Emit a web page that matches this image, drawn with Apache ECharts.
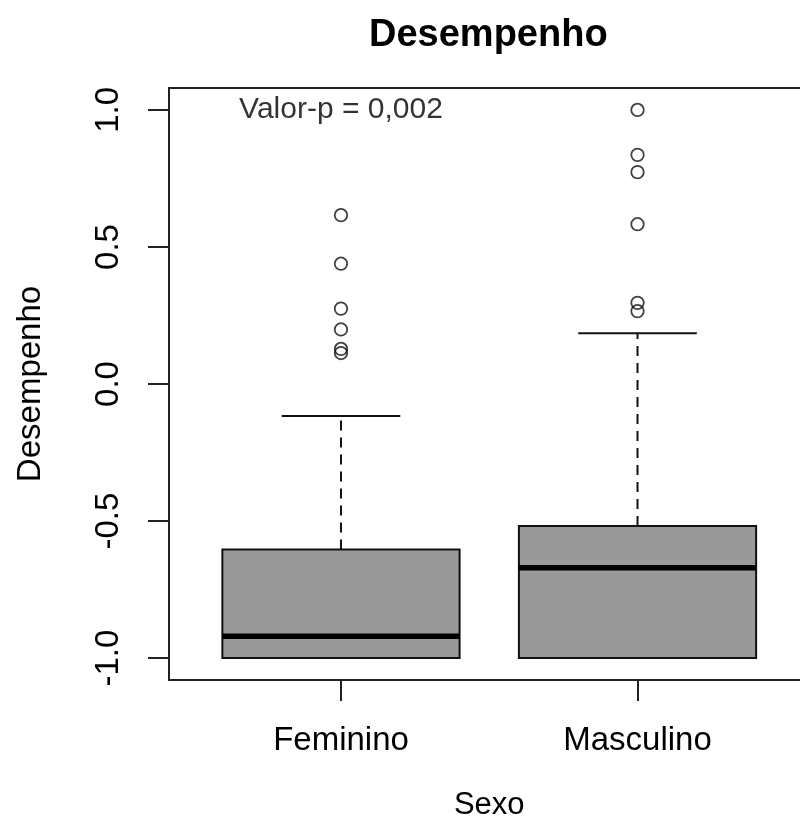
<!DOCTYPE html>
<html>
<head>
<meta charset="utf-8">
<script src="https://cdn.jsdelivr.net/npm/echarts@6/dist/echarts.min.js"></script>
<style>
html,body{margin:0;padding:0;background:#fff;}
#chart{width:800px;height:821px;}
</style>
</head>
<body>
<div id="chart"></div>
<script>
// ---- data ----
const categories = ['Feminino', 'Masculino'];
const categoryPositions = [1, 2];
// [lower whisker, Q1, median, Q3, upper whisker]
const femininoStats = [-1.0, -1.0, -0.92, -0.604, -0.117];
const masculinoStats = [-1.0, -1.0, -0.67, -0.518, 0.185];
const femininoOutliers = [0.616, 0.439, 0.275, 0.199, 0.128, 0.113];
const masculinoOutliers = [1.0, 0.836, 0.773, 0.583, 0.296, 0.266];
const yTicks = [-1.0, -0.5, 0.0, 0.5, 1.0];
const annotationText = 'Valor-p = 0,002';
const annotationPos = [1, 1.0];

const FONT = 'Liberation Sans, Arial, sans-serif';
const boxData = [
  [categoryPositions[0]].concat(femininoStats),
  [categoryPositions[1]].concat(masculinoStats)
];
const outlierData = [];
femininoOutliers.forEach(v => outlierData.push([categoryPositions[0], v]));
masculinoOutliers.forEach(v => outlierData.push([categoryPositions[1], v]));

const chart = echarts.init(document.getElementById('chart'), null, {renderer: 'canvas'});

function renderBox(params, api) {
  const x = api.value(0);
  const lo = api.value(1), q1 = api.value(2), med = api.value(3), q3 = api.value(4), hi = api.value(5);
  const hw = 0.4, cw = 0.2;
  const line = 2, col = '#111';
  const p = (a, b) => api.coord([a, b]);
  const children = [];
  // upper whisker
  const a1 = p(x, q3), a2 = p(x, hi);
  children.push({type: 'line', shape: {x1: a1[0], y1: a1[1], x2: a2[0], y2: a2[1]},
    style: {stroke: col, lineWidth: line, lineDash: [10, 7]}});
  const c1 = p(x - cw, hi), c2 = p(x + cw, hi);
  children.push({type: 'line', shape: {x1: c1[0], y1: c1[1], x2: c2[0], y2: c2[1]},
    style: {stroke: col, lineWidth: line}});
  // lower whisker
  const b1 = p(x, lo), b2 = p(x, q1);
  children.push({type: 'line', shape: {x1: b1[0], y1: b1[1], x2: b2[0], y2: b2[1]},
    style: {stroke: col, lineWidth: line, lineDash: [10, 7]}});
  const d1 = p(x - cw, lo), d2 = p(x + cw, lo);
  children.push({type: 'line', shape: {x1: d1[0], y1: d1[1], x2: d2[0], y2: d2[1]},
    style: {stroke: col, lineWidth: line}});
  // box
  const tl = p(x - hw, q3), br = p(x + hw, q1);
  children.push({type: 'rect', shape: {x: tl[0], y: tl[1], width: br[0] - tl[0], height: br[1] - tl[1]},
    style: {fill: '#999999', stroke: col, lineWidth: line}});
  // median
  const m1 = p(x - hw, med), m2 = p(x + hw, med);
  children.push({type: 'line', shape: {x1: m1[0], y1: m1[1], x2: m2[0], y2: m2[1]},
    style: {stroke: '#000', lineWidth: 5.5, lineCap: 'butt'}});
  return {type: 'group', children: children};
}

const option = {
  backgroundColor: '#fff',
  animation: false,
  title: {
    text: 'Desempenho',
    left: 369, top: 17, padding: 0,
    textStyle: {fontFamily: FONT, fontWeight: 'bold', fontSize: 38, color: '#000'}
  },
  grid: {
    left: 169, top: 88, width: 640.5, height: 592,
    outerBoundsMode: 'none', containLabel: false,
    show: true, borderColor: '#222', borderWidth: 2, backgroundColor: 'transparent'
  },
  xAxis: {
    type: 'value', min: 0.42, max: 2.58, position: 'bottom',
    name: 'Sexo', nameLocation: 'middle', nameGap: 110,
    nameTextStyle: {fontFamily: FONT, fontSize: 31, color: '#000'},
    axisLine: {show: false, onZero: false},
    splitLine: {show: false},
    axisTick: {show: true, length: 21, inside: false, customValues: categoryPositions,
      lineStyle: {color: '#222', width: 2}},
    axisLabel: {show: true, customValues: categoryPositions, margin: 44,
      fontFamily: FONT, fontSize: 33, color: '#000',
      formatter: v => categories[categoryPositions.indexOf(Math.round(v))] || ''}
  },
  yAxis: {
    type: 'value', min: -1.08, max: 1.08, position: 'left',
    name: 'Desempenho', nameLocation: 'middle', nameGap: 122,
    nameTextStyle: {fontFamily: FONT, fontSize: 33, color: '#000'},
    axisLine: {show: false, onZero: false},
    splitLine: {show: false},
    axisTick: {show: true, length: 21, inside: false, customValues: yTicks,
      lineStyle: {color: '#222', width: 2}},
    axisLabel: {show: true, customValues: yTicks, rotate: 90, margin: 44,
      fontFamily: FONT, fontSize: 33, color: '#000',
      formatter: v => v.toFixed(1)}
  },
  series: [
    {
      type: 'custom', renderItem: renderBox, data: boxData,
      encode: {x: 0, y: [1, 2, 3, 4, 5]}, z: 2
    },
    {
      type: 'scatter', data: outlierData, symbol: 'circle', symbolSize: 12.5,
      itemStyle: {color: 'rgba(0,0,0,0)', borderColor: '#111', borderWidth: 1.8}, z: 3
    },
    {
      type: 'scatter', data: [annotationPos], symbolSize: 1,
      itemStyle: {color: 'rgba(0,0,0,0)'},
      label: {show: true, position: 'inside', formatter: annotationText,
        fontFamily: FONT, fontSize: 30, color: '#000'}, z: 4
    }
  ]
};
chart.setOption(option);
</script>
</body>
</html>
